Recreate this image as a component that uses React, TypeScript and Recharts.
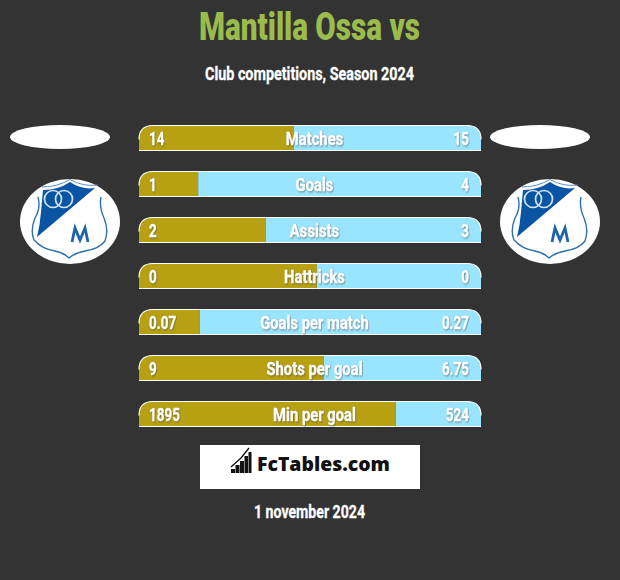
import { Bar, BarChart, LabelList, XAxis, YAxis } from 'recharts';

const categories = ['Matches', 'Goals', 'Assists', 'Hattricks', 'Goals per match', 'Shots per goal', 'Min per goal'];
const homeLabels = ['14', '1', '2', '0', '0.07', '9', '1895'];
const awayLabels = ['15', '4', '3', '0', '0.27', '6.75', '524'];
const homeShare = [45.3, 17.3, 37.1, 52, 17.8, 54.1, 75.1];
const awayShare = [54.7, 82.7, 62.9, 48, 82.2, 45.9, 24.9];

const chartData = categories.map((name, i) => ({
  name,
  home: homeShare[i],
  away: awayShare[i],
  homeLabel: homeLabels[i],
  awayLabel: awayLabels[i],
}));

const BG = '#333333';
const GOLD = '#b8a013';
const SKY = '#99e5ff';
const FONT = 'Roboto, sans-serif';
const R = 14;

const HomeBar = (props: any) => {
  const { x, width, height } = props;
  const y = props.y + 0.5;
  const yb = props.y + height;
  return (
    <g>
      <path d={`M${x},${yb} V${y + R} Q${x},${y} ${x + R},${y} H${x + width} V${yb} Z`} fill={GOLD} />
      <path d={`M${x},${y + R} Q${x},${y} ${x + R},${y} H${x + width}`} fill="none" stroke="#fff" strokeWidth={1.2} />
      <path d={`M${x},${yb - 0.5} H${x + width}`} stroke="#fff" strokeWidth={1.2} />
    </g>
  );
};

const AwayBar = (props: any) => {
  const { x, width, height } = props;
  const y = props.y + 0.5;
  const yb = props.y + height;
  const xr = x + width;
  return (
    <g>
      <path d={`M${x},${y} H${xr - R} Q${xr},${y} ${xr},${y + R} V${yb} H${x} Z`} fill={SKY} />
      <path d={`M${x},${y} H${xr - R} Q${xr},${y} ${xr},${y + R}`} fill="none" stroke="#fff" strokeWidth={1.2} />
      <path d={`M${x},${yb - 0.5} H${xr}`} stroke="#fff" strokeWidth={1.2} />
    </g>
  );
};

const labelStyle = {
  fontFamily: FONT,
  fontWeight: 700,
  fontSize: 19,
  fill: '#fff',
  stroke: '#fff',
  strokeWidth: 0.35,
  filter: 'drop-shadow(1.5px 1.5px 1px rgba(70,70,70,0.55))',
};

const HomeLabel = (props: any) => {
  const { x, y, height, value } = props;
  return (
    <text transform={`translate(${x + 10},${y + height / 2 + 6.5}) scale(0.71,1)`} style={labelStyle}>
      {value}
    </text>
  );
};

const AwayLabel = (props: any) => {
  const { x, y, width, height, value } = props;
  return (
    <text transform={`translate(${x + width - 12},${y + height / 2 + 6.5}) scale(0.71,1)`} textAnchor="end" style={labelStyle}>
      {value}
    </text>
  );
};

const CenterLabel = (props: any) => {
  const { y, height, value } = props;
  return (
    <text transform={`translate(314.5,${y + height / 2 + 6.5}) scale(0.78,1)`} textAnchor="middle" style={labelStyle}>
      {value}
    </text>
  );
};

const Crest = ({ cx }: { cx: number }) => (
  <g transform={`translate(${cx - 70},0)`}>
    <ellipse cx={70} cy={221.5} rx={50} ry={42.5} fill="#fff" />
    <path d="M43,190 Q58,190 70,182 Q82,190 95,188 L37,237 Q40,225 41,212 Q42,200 43,190 Z" fill="#0a55a3" />
    <path
      d="M38,197 Q41,208 35,218 Q30,230 34,240 Q42,249 55,251 Q64,253 69,258 Q75,253 85,251 Q99,249 105,241 Q109,230 104,218 Q99,207 101,197"
      fill="none"
      stroke="#2f6fae"
      strokeWidth={1.4}
    />
    <path d="M42,187 Q57,187 70,179.5 Q83,187 98,185" fill="none" stroke="#5b90c4" strokeWidth={1} />
    <circle cx={53} cy={199} r={8.5} fill="none" stroke="#d5e4f1" strokeWidth={1.7} />
    <circle cx={64} cy={199} r={8.5} fill="none" stroke="#d5e4f1" strokeWidth={1.7} />
    <path d="M72,242 L75,228 L80,240 L85,228 L88,242" fill="none" stroke="#1d64a8" strokeWidth={2.8} />
  </g>
);

const Overlay = () => (
  <svg width={620} height={580} style={{ position: 'absolute', left: 0, top: 0 }}>
    <text x={309.5} y={40} textAnchor="middle" textLength={221} lengthAdjust="spacingAndGlyphs" fontFamily={FONT} fontWeight={900} fontSize={39} fill="#9bbc4c">
      Mantilla Ossa vs
    </text>
    <text x={309.5} y={79.5} textAnchor="middle" textLength={209} lengthAdjust="spacingAndGlyphs" fontFamily={FONT} fontWeight={700} fontSize={19} stroke="#fff" strokeWidth={0.3} fill="#fff">
      Club competitions, Season 2024
    </text>
    <ellipse cx={60} cy={137} rx={50} ry={12} fill="#fff" />
    <ellipse cx={540} cy={137} rx={50} ry={12} fill="#fff" />
    <Crest cx={70} />
    <Crest cx={550} />
    <rect x={200} y={445} width={220} height={44} fill="#fff" />
    <g fill="#111">
      <rect x={231} y={469} width={4} height={4} />
      <rect x={235.5} y={465} width={4} height={8} />
      <rect x={240} y={461} width={4} height={12} />
      <rect x={244.5} y={456} width={3.5} height={17} />
      <rect x={248.5} y={452} width={3} height={21} />
    </g>
    <path d="M231,467 L241,458 L249,448" fill="none" stroke="#111" strokeWidth={1.3} />
    <text x={257} y={471} fontFamily='"Open Sans", sans-serif' fontWeight={800} fontSize={20} textLength={133} lengthAdjust="spacingAndGlyphs" fill="#111">
      FcTables.com
    </text>
    <text x={309.5} y={517.5} textAnchor="middle" textLength={111} lengthAdjust="spacingAndGlyphs" fontFamily={FONT} fontWeight={700} fontSize={19} stroke="#fff" strokeWidth={0.3} fill="#fff">
      1 november 2024
    </text>
  </svg>
);

const App = () => {
  return (
    <div style={{ position: 'absolute', left: 0, top: 0, width: 620, height: 580, background: BG }}>
      <BarChart
        layout="vertical"
        width={620}
        height={580}
        data={chartData}
        barSize={26}
        margin={{ top: 115, right: 139, bottom: 143, left: 139 }}
      >
        <XAxis type="number" domain={[0, 100]} hide />
        <YAxis type="category" dataKey="name" hide />
        <Bar dataKey="home" stackId="a" shape={HomeBar} isAnimationActive={false}>
          <LabelList dataKey="homeLabel" content={HomeLabel} />
        </Bar>
        <Bar dataKey="away" stackId="a" shape={AwayBar} isAnimationActive={false}>
          <LabelList dataKey="awayLabel" content={AwayLabel} />
          <LabelList dataKey="name" content={CenterLabel} />
        </Bar>
      </BarChart>
      <Overlay />
    </div>
  );
};

export default App;
